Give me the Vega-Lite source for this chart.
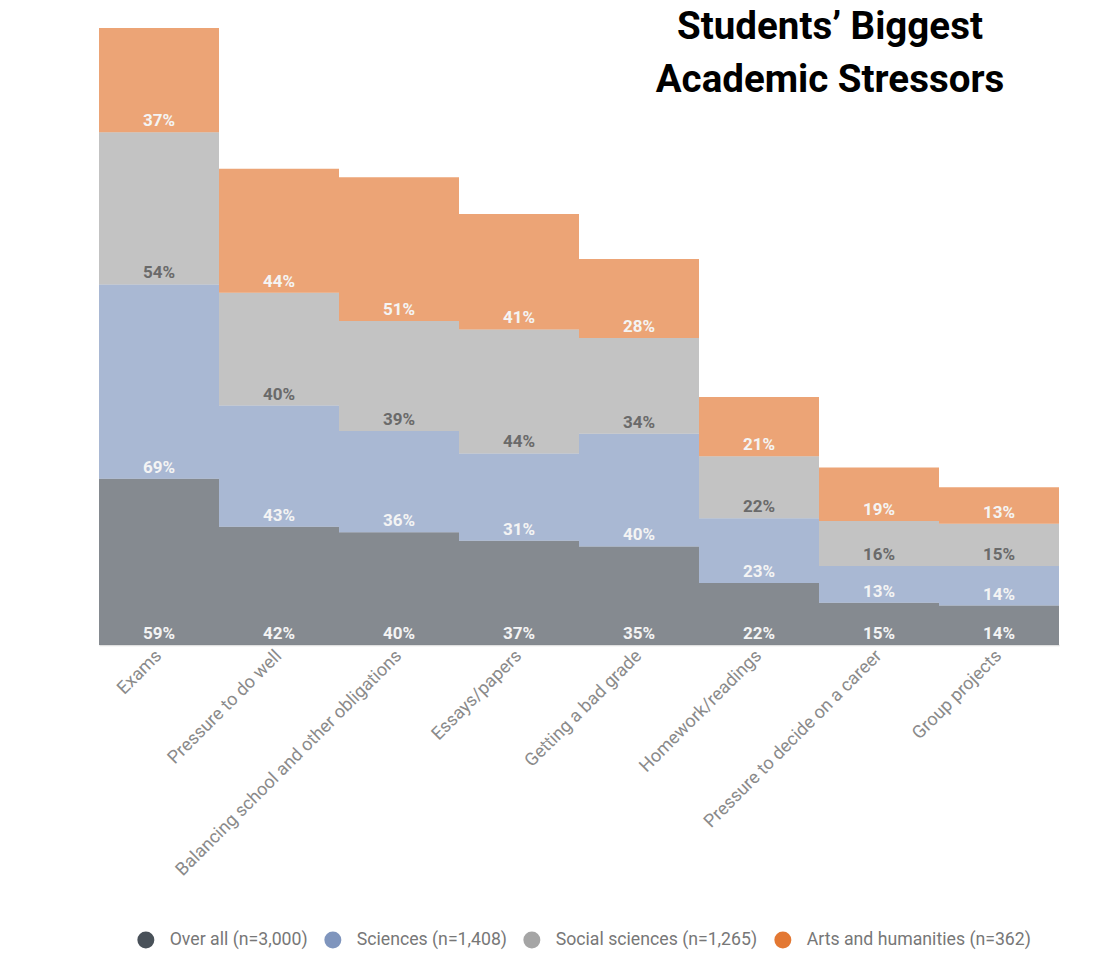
{
  "$schema": "https://vega.github.io/schema/vega-lite/v6.json",
  "autosize": "none",
  "padding": {"left": 99, "top": 28, "right": 38, "bottom": 321},
  "width": 960,
  "height": 617,
  "background": "white",
  "config": {"font": "Roboto", "view": {"stroke": null}},
  "title": {
    "text": ["Students’ Biggest", "Academic Stressors"],
    "anchor": "start",
    "align": "center",
    "dx": 731,
    "offset": -72,
    "font": "Roboto",
    "fontSize": 38.5,
    "fontWeight": "bold",
    "color": "#000000",
    "lineHeight": 53
  },
  "data": {
    "values": [
      {"stressor": "Exams", "group": "Over all (n=3,000)", "ord": 1, "value": 59},
      {"stressor": "Exams", "group": "Sciences (n=1,408)", "ord": 2, "value": 69},
      {"stressor": "Exams", "group": "Social sciences (n=1,265)", "ord": 3, "value": 54},
      {"stressor": "Exams", "group": "Arts and humanities (n=362)", "ord": 4, "value": 37},
      {"stressor": "Pressure to do well", "group": "Over all (n=3,000)", "ord": 1, "value": 42},
      {"stressor": "Pressure to do well", "group": "Sciences (n=1,408)", "ord": 2, "value": 43},
      {"stressor": "Pressure to do well", "group": "Social sciences (n=1,265)", "ord": 3, "value": 40},
      {"stressor": "Pressure to do well", "group": "Arts and humanities (n=362)", "ord": 4, "value": 44},
      {"stressor": "Balancing school and other obligations", "group": "Over all (n=3,000)", "ord": 1, "value": 40},
      {"stressor": "Balancing school and other obligations", "group": "Sciences (n=1,408)", "ord": 2, "value": 36},
      {"stressor": "Balancing school and other obligations", "group": "Social sciences (n=1,265)", "ord": 3, "value": 39},
      {"stressor": "Balancing school and other obligations", "group": "Arts and humanities (n=362)", "ord": 4, "value": 51},
      {"stressor": "Essays/papers", "group": "Over all (n=3,000)", "ord": 1, "value": 37},
      {"stressor": "Essays/papers", "group": "Sciences (n=1,408)", "ord": 2, "value": 31},
      {"stressor": "Essays/papers", "group": "Social sciences (n=1,265)", "ord": 3, "value": 44},
      {"stressor": "Essays/papers", "group": "Arts and humanities (n=362)", "ord": 4, "value": 41},
      {"stressor": "Getting a bad grade", "group": "Over all (n=3,000)", "ord": 1, "value": 35},
      {"stressor": "Getting a bad grade", "group": "Sciences (n=1,408)", "ord": 2, "value": 40},
      {"stressor": "Getting a bad grade", "group": "Social sciences (n=1,265)", "ord": 3, "value": 34},
      {"stressor": "Getting a bad grade", "group": "Arts and humanities (n=362)", "ord": 4, "value": 28},
      {"stressor": "Homework/readings", "group": "Over all (n=3,000)", "ord": 1, "value": 22},
      {"stressor": "Homework/readings", "group": "Sciences (n=1,408)", "ord": 2, "value": 23},
      {"stressor": "Homework/readings", "group": "Social sciences (n=1,265)", "ord": 3, "value": 22},
      {"stressor": "Homework/readings", "group": "Arts and humanities (n=362)", "ord": 4, "value": 21},
      {"stressor": "Pressure to decide on a career", "group": "Over all (n=3,000)", "ord": 1, "value": 15},
      {"stressor": "Pressure to decide on a career", "group": "Sciences (n=1,408)", "ord": 2, "value": 13},
      {"stressor": "Pressure to decide on a career", "group": "Social sciences (n=1,265)", "ord": 3, "value": 16},
      {"stressor": "Pressure to decide on a career", "group": "Arts and humanities (n=362)", "ord": 4, "value": 19},
      {"stressor": "Group projects", "group": "Over all (n=3,000)", "ord": 1, "value": 14},
      {"stressor": "Group projects", "group": "Sciences (n=1,408)", "ord": 2, "value": 14},
      {"stressor": "Group projects", "group": "Social sciences (n=1,265)", "ord": 3, "value": 15},
      {"stressor": "Group projects", "group": "Arts and humanities (n=362)", "ord": 4, "value": 13}
    ]
  },
  "transform": [
    {"stack": "value", "groupby": ["stressor"], "sort": [{"field": "ord", "order": "ascending"}], "as": ["y0", "y1"]},
    {"calculate": "datum.value + '%'", "as": "label"}
  ],
  "encoding": {
    "x": {
      "field": "stressor",
      "type": "nominal",
      "sort": null,
      "scale": {"paddingInner": 0, "paddingOuter": 0},
      "axis": {
        "title": null,
        "labelAngle": -45,
        "labelAlign": "right",
        "labelBaseline": "middle",
        "labelPadding": 8,
        "labelFontSize": 18,
        "labelColor": "#8a8a8a",
        "labelFont": "Roboto",
        "labelLimit": 500,
        "ticks": false,
        "domainColor": "#e0e0e0",
        "domainWidth": 1.5
      }
    }
  },
  "layer": [
    {
      "mark": {"type": "bar", "opacity": 0.67},
      "encoding": {
        "y": {"field": "y0", "type": "quantitative", "scale": {"domain": [0, 219], "nice": false, "zero": true}, "axis": null},
        "y2": {"field": "y1"},
        "color": {
          "field": "group",
          "type": "nominal",
          "scale": {
            "domain": ["Over all (n=3,000)", "Sciences (n=1,408)", "Social sciences (n=1,265)", "Arts and humanities (n=362)"],
            "range": ["#495159", "#7f95bd", "#a5a5a5", "#e37833"]
          },
          "legend": {
            "title": null,
            "orient": "none",
            "direction": "horizontal",
            "legendX": 38,
            "legendY": 903,
            "symbolType": "circle",
            "symbolSize": 289,
            "symbolOpacity": 1,
            "symbolStrokeWidth": 0,
            "labelFontSize": 17.7,
            "labelColor": "#777777",
            "labelFont": "Roboto",
            "labelOffset": 15,
            "columnPadding": 16,
            "padding": 0,
            "labelLimit": 400
          }
        }
      }
    },
    {
      "mark": {"type": "text", "baseline": "alphabetic", "dy": -6, "fontSize": 17, "fontWeight": "bold", "font": "Roboto"},
      "encoding": {
        "y": {"field": "y0", "type": "quantitative"},
        "text": {"field": "label", "type": "nominal"},
        "color": {
          "condition": {"test": "datum.ord === 3", "value": "#6a6a6a"},
          "value": "#f4f4f4"
        }
      }
    }
  ]
}
